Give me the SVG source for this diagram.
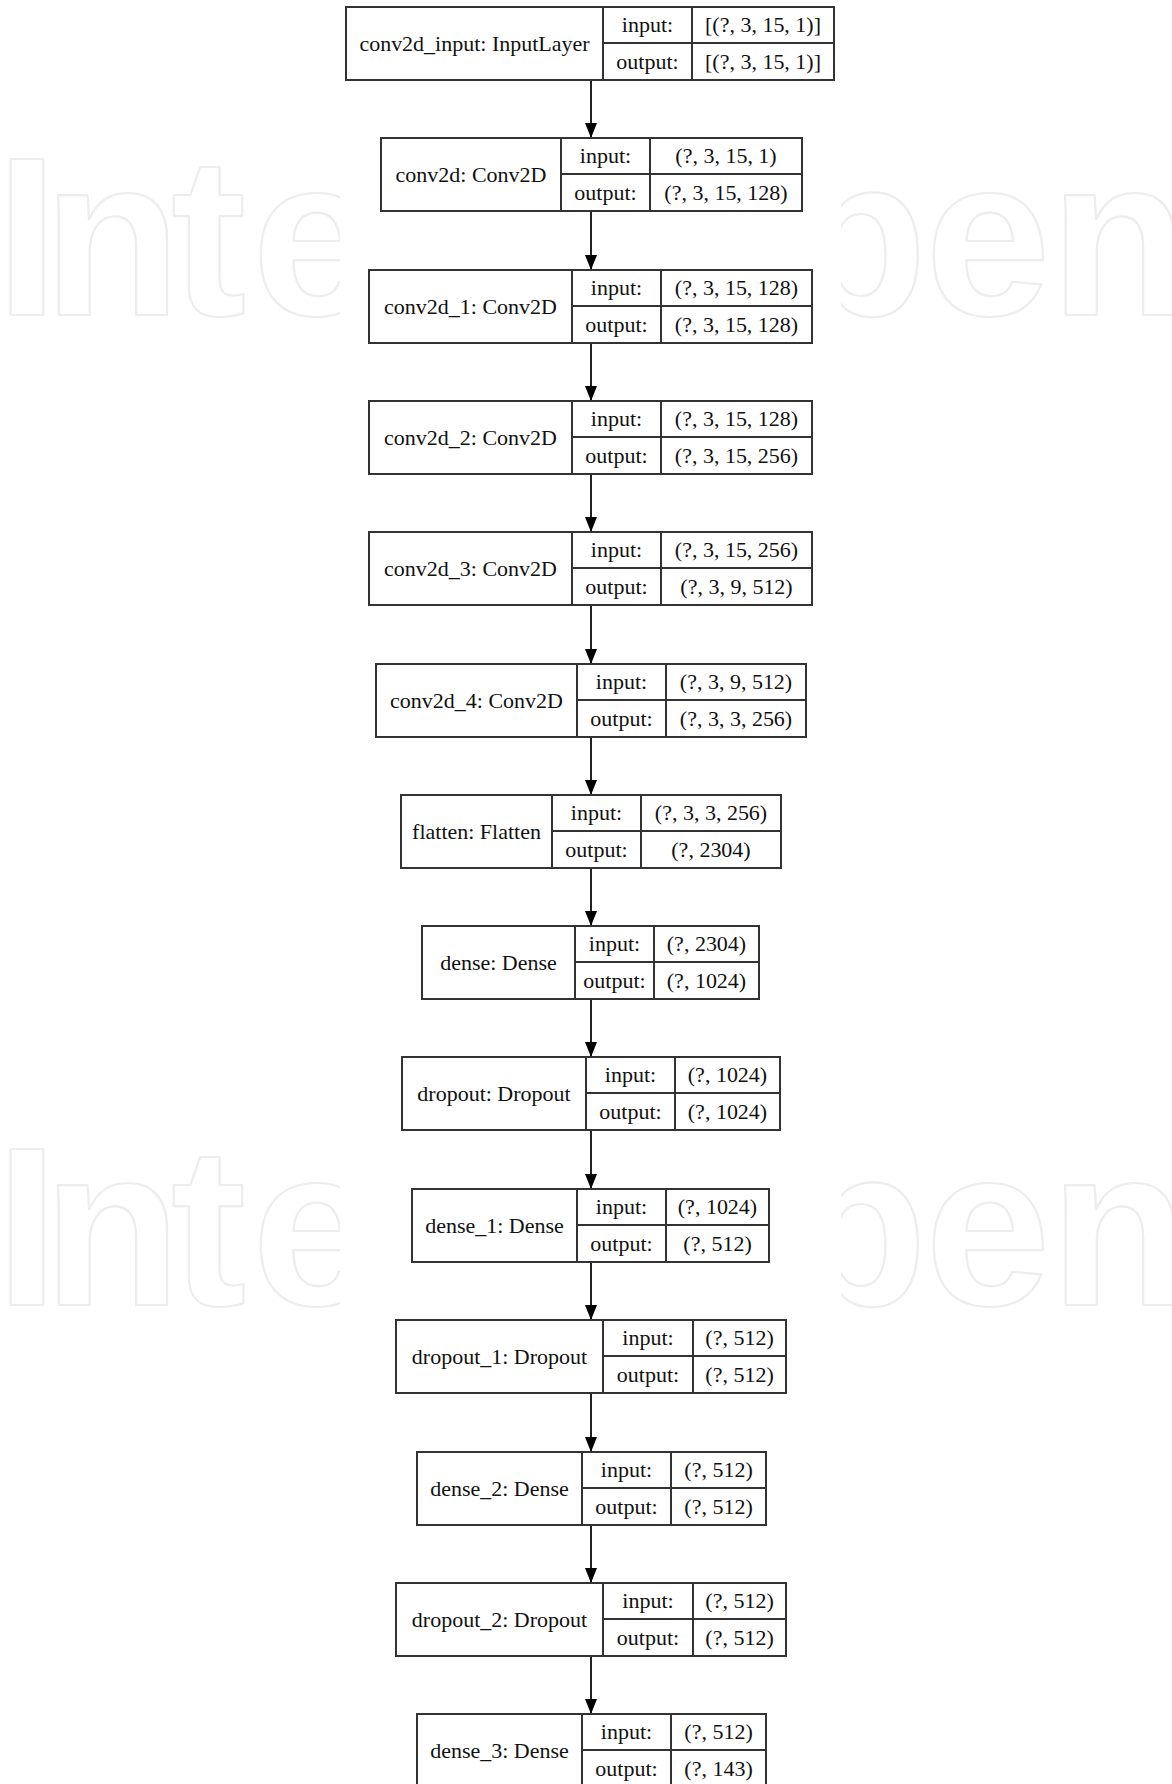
<svg xmlns="http://www.w3.org/2000/svg" width="1172" height="1784" viewBox="0 0 1172 1784">
  <style>
    .box { fill: #ffffff; stroke: #333333; stroke-width: 2; }
    .sep { stroke: #333333; stroke-width: 2; fill: none; }
    .t { font-family: "Liberation Serif", "Times New Roman", serif; font-size: 20px; fill: #111111; text-anchor: middle; }
    .edge { stroke: #222222; stroke-width: 2; fill: none; }
    .wm { font-family: "Liberation Sans", Arial, sans-serif; font-weight: bold; font-size: 226px; fill: none; stroke: #ededed; stroke-width: 2.2; stroke-linejoin: round; }
  </style>
  <defs>
    <marker id="arrow" markerUnits="userSpaceOnUse" markerWidth="15" markerHeight="12" refX="15" refY="6" orient="auto">
      <path d="M0,0 L15,6 L0,12 Z" fill="#000000"/>
    </marker>
    <clipPath id="wmClip">
      <rect x="0" y="0" width="340" height="1784"/>
      <rect x="841" y="0" width="331" height="1784"/>
    </clipPath>
  </defs>

  <rect width="1172" height="1784" fill="#ffffff"/>

  <!-- background watermark lettering -->
  <g id="watermark" clip-path="url(#wmClip)">
    <text class="wm" x="-4.5 43 171 252" y="315">Inte</text>
    <text class="wm" x="789 925 1050" y="315">pen</text>
    <text class="wm" x="-4.5 43 171 252" y="1305">Inte</text>
    <text class="wm" x="789 925 1050" y="1305">pen</text>
  </g>

  <!-- connectors -->
  <g id="edges">
    <line class="edge" x1="591" y1="80" x2="591" y2="138" marker-end="url(#arrow)"/>
    <line class="edge" x1="591" y1="211" x2="591" y2="270" marker-end="url(#arrow)"/>
    <line class="edge" x1="591" y1="343" x2="591" y2="401" marker-end="url(#arrow)"/>
    <line class="edge" x1="591" y1="474" x2="591" y2="532" marker-end="url(#arrow)"/>
    <line class="edge" x1="591" y1="605" x2="591" y2="664" marker-end="url(#arrow)"/>
    <line class="edge" x1="591" y1="737" x2="591" y2="795" marker-end="url(#arrow)"/>
    <line class="edge" x1="591" y1="868" x2="591" y2="926" marker-end="url(#arrow)"/>
    <line class="edge" x1="591" y1="999" x2="591" y2="1057" marker-end="url(#arrow)"/>
    <line class="edge" x1="591" y1="1130" x2="591" y2="1189" marker-end="url(#arrow)"/>
    <line class="edge" x1="591" y1="1262" x2="591" y2="1320" marker-end="url(#arrow)"/>
    <line class="edge" x1="591" y1="1393" x2="591" y2="1452" marker-end="url(#arrow)"/>
    <line class="edge" x1="591" y1="1525" x2="591" y2="1583" marker-end="url(#arrow)"/>
    <line class="edge" x1="591" y1="1656" x2="591" y2="1714" marker-end="url(#arrow)"/>
  </g>

  <!-- layer nodes: name | input/output | shapes -->
  <g id="conv2d_input" transform="translate(0 7)">
    <rect class="box" x="346" y="0" width="488" height="73"/>
    <path class="sep" d="M603,0 V73 M692,0 V73 M603,36 H834"/>
    <text class="t" transform="translate(474.5 44) scale(1.1 1)">conv2d_input: InputLayer</text>
    <text class="t" transform="translate(647.5 25) scale(1.1 1)">input:</text>
    <text class="t" transform="translate(647.5 62) scale(1.1 1)">output:</text>
    <text class="t" transform="translate(763 25) scale(1.1 1)">[(?, 3, 15, 1)]</text>
    <text class="t" transform="translate(763 62) scale(1.1 1)">[(?, 3, 15, 1)]</text>
  </g>

  <g id="conv2d" transform="translate(0 138)">
    <rect class="box" x="381" y="0" width="421" height="73"/>
    <path class="sep" d="M561,0 V73 M650,0 V73 M561,36 H802"/>
    <text class="t" transform="translate(471 44) scale(1.1 1)">conv2d: Conv2D</text>
    <text class="t" transform="translate(605.5 25) scale(1.1 1)">input:</text>
    <text class="t" transform="translate(605.5 62) scale(1.1 1)">output:</text>
    <text class="t" transform="translate(726 25) scale(1.1 1)">(?, 3, 15, 1)</text>
    <text class="t" transform="translate(726 62) scale(1.1 1)">(?, 3, 15, 128)</text>
  </g>

  <g id="conv2d_1" transform="translate(0 270)">
    <rect class="box" x="369" y="0" width="443" height="73"/>
    <path class="sep" d="M572,0 V73 M661,0 V73 M572,36 H812"/>
    <text class="t" transform="translate(470.5 44) scale(1.1 1)">conv2d_1: Conv2D</text>
    <text class="t" transform="translate(616.5 25) scale(1.1 1)">input:</text>
    <text class="t" transform="translate(616.5 62) scale(1.1 1)">output:</text>
    <text class="t" transform="translate(736.5 25) scale(1.1 1)">(?, 3, 15, 128)</text>
    <text class="t" transform="translate(736.5 62) scale(1.1 1)">(?, 3, 15, 128)</text>
  </g>

  <g id="conv2d_2" transform="translate(0 401)">
    <rect class="box" x="369" y="0" width="443" height="73"/>
    <path class="sep" d="M572,0 V73 M661,0 V73 M572,36 H812"/>
    <text class="t" transform="translate(470.5 44) scale(1.1 1)">conv2d_2: Conv2D</text>
    <text class="t" transform="translate(616.5 25) scale(1.1 1)">input:</text>
    <text class="t" transform="translate(616.5 62) scale(1.1 1)">output:</text>
    <text class="t" transform="translate(736.5 25) scale(1.1 1)">(?, 3, 15, 128)</text>
    <text class="t" transform="translate(736.5 62) scale(1.1 1)">(?, 3, 15, 256)</text>
  </g>

  <g id="conv2d_3" transform="translate(0 532)">
    <rect class="box" x="369" y="0" width="443" height="73"/>
    <path class="sep" d="M572,0 V73 M661,0 V73 M572,36 H812"/>
    <text class="t" transform="translate(470.5 44) scale(1.1 1)">conv2d_3: Conv2D</text>
    <text class="t" transform="translate(616.5 25) scale(1.1 1)">input:</text>
    <text class="t" transform="translate(616.5 62) scale(1.1 1)">output:</text>
    <text class="t" transform="translate(736.5 25) scale(1.1 1)">(?, 3, 15, 256)</text>
    <text class="t" transform="translate(736.5 62) scale(1.1 1)">(?, 3, 9, 512)</text>
  </g>

  <g id="conv2d_4" transform="translate(0 664)">
    <rect class="box" x="376" y="0" width="430" height="73"/>
    <path class="sep" d="M577,0 V73 M666,0 V73 M577,36 H806"/>
    <text class="t" transform="translate(476.5 44) scale(1.1 1)">conv2d_4: Conv2D</text>
    <text class="t" transform="translate(621.5 25) scale(1.1 1)">input:</text>
    <text class="t" transform="translate(621.5 62) scale(1.1 1)">output:</text>
    <text class="t" transform="translate(736 25) scale(1.1 1)">(?, 3, 9, 512)</text>
    <text class="t" transform="translate(736 62) scale(1.1 1)">(?, 3, 3, 256)</text>
  </g>

  <g id="flatten" transform="translate(0 795)">
    <rect class="box" x="401" y="0" width="380" height="73"/>
    <path class="sep" d="M552,0 V73 M641,0 V73 M552,36 H781"/>
    <text class="t" transform="translate(476.5 44) scale(1.1 1)">flatten: Flatten</text>
    <text class="t" transform="translate(596.5 25) scale(1.1 1)">input:</text>
    <text class="t" transform="translate(596.5 62) scale(1.1 1)">output:</text>
    <text class="t" transform="translate(711 25) scale(1.1 1)">(?, 3, 3, 256)</text>
    <text class="t" transform="translate(711 62) scale(1.1 1)">(?, 2304)</text>
  </g>

  <g id="dense" transform="translate(0 926)">
    <rect class="box" x="422" y="0" width="337" height="73"/>
    <path class="sep" d="M575,0 V73 M654,0 V73 M575,36 H759"/>
    <text class="t" transform="translate(498.5 44) scale(1.1 1)">dense: Dense</text>
    <text class="t" transform="translate(614.5 25) scale(1.1 1)">input:</text>
    <text class="t" transform="translate(614.5 62) scale(1.1 1)">output:</text>
    <text class="t" transform="translate(706.5 25) scale(1.1 1)">(?, 2304)</text>
    <text class="t" transform="translate(706.5 62) scale(1.1 1)">(?, 1024)</text>
  </g>

  <g id="dropout" transform="translate(0 1057)">
    <rect class="box" x="402" y="0" width="378" height="73"/>
    <path class="sep" d="M586,0 V73 M675,0 V73 M586,36 H780"/>
    <text class="t" transform="translate(494 44) scale(1.1 1)">dropout: Dropout</text>
    <text class="t" transform="translate(630.5 25) scale(1.1 1)">input:</text>
    <text class="t" transform="translate(630.5 62) scale(1.1 1)">output:</text>
    <text class="t" transform="translate(727.5 25) scale(1.1 1)">(?, 1024)</text>
    <text class="t" transform="translate(727.5 62) scale(1.1 1)">(?, 1024)</text>
  </g>

  <g id="dense_1" transform="translate(0 1189)">
    <rect class="box" x="412" y="0" width="357" height="73"/>
    <path class="sep" d="M577,0 V73 M666,0 V73 M577,36 H769"/>
    <text class="t" transform="translate(494.5 44) scale(1.1 1)">dense_1: Dense</text>
    <text class="t" transform="translate(621.5 25) scale(1.1 1)">input:</text>
    <text class="t" transform="translate(621.5 62) scale(1.1 1)">output:</text>
    <text class="t" transform="translate(717.5 25) scale(1.1 1)">(?, 1024)</text>
    <text class="t" transform="translate(717.5 62) scale(1.1 1)">(?, 512)</text>
  </g>

  <g id="dropout_1" transform="translate(0 1320)">
    <rect class="box" x="396" y="0" width="390" height="73"/>
    <path class="sep" d="M603,0 V73 M693,0 V73 M603,36 H786"/>
    <text class="t" transform="translate(499.5 44) scale(1.1 1)">dropout_1: Dropout</text>
    <text class="t" transform="translate(648 25) scale(1.1 1)">input:</text>
    <text class="t" transform="translate(648 62) scale(1.1 1)">output:</text>
    <text class="t" transform="translate(739.5 25) scale(1.1 1)">(?, 512)</text>
    <text class="t" transform="translate(739.5 62) scale(1.1 1)">(?, 512)</text>
  </g>

  <g id="dense_2" transform="translate(0 1452)">
    <rect class="box" x="417" y="0" width="349" height="73"/>
    <path class="sep" d="M582,0 V73 M671,0 V73 M582,36 H766"/>
    <text class="t" transform="translate(499.5 44) scale(1.1 1)">dense_2: Dense</text>
    <text class="t" transform="translate(626.5 25) scale(1.1 1)">input:</text>
    <text class="t" transform="translate(626.5 62) scale(1.1 1)">output:</text>
    <text class="t" transform="translate(718.5 25) scale(1.1 1)">(?, 512)</text>
    <text class="t" transform="translate(718.5 62) scale(1.1 1)">(?, 512)</text>
  </g>

  <g id="dropout_2" transform="translate(0 1583)">
    <rect class="box" x="396" y="0" width="390" height="73"/>
    <path class="sep" d="M603,0 V73 M693,0 V73 M603,36 H786"/>
    <text class="t" transform="translate(499.5 44) scale(1.1 1)">dropout_2: Dropout</text>
    <text class="t" transform="translate(648 25) scale(1.1 1)">input:</text>
    <text class="t" transform="translate(648 62) scale(1.1 1)">output:</text>
    <text class="t" transform="translate(739.5 25) scale(1.1 1)">(?, 512)</text>
    <text class="t" transform="translate(739.5 62) scale(1.1 1)">(?, 512)</text>
  </g>

  <g id="dense_3" transform="translate(0 1714)">
    <rect class="box" x="417" y="0" width="349" height="73"/>
    <path class="sep" d="M582,0 V73 M671,0 V73 M582,36 H766"/>
    <text class="t" transform="translate(499.5 44) scale(1.1 1)">dense_3: Dense</text>
    <text class="t" transform="translate(626.5 25) scale(1.1 1)">input:</text>
    <text class="t" transform="translate(626.5 62) scale(1.1 1)">output:</text>
    <text class="t" transform="translate(718.5 25) scale(1.1 1)">(?, 512)</text>
    <text class="t" transform="translate(718.5 62) scale(1.1 1)">(?, 143)</text>
  </g>
</svg>
